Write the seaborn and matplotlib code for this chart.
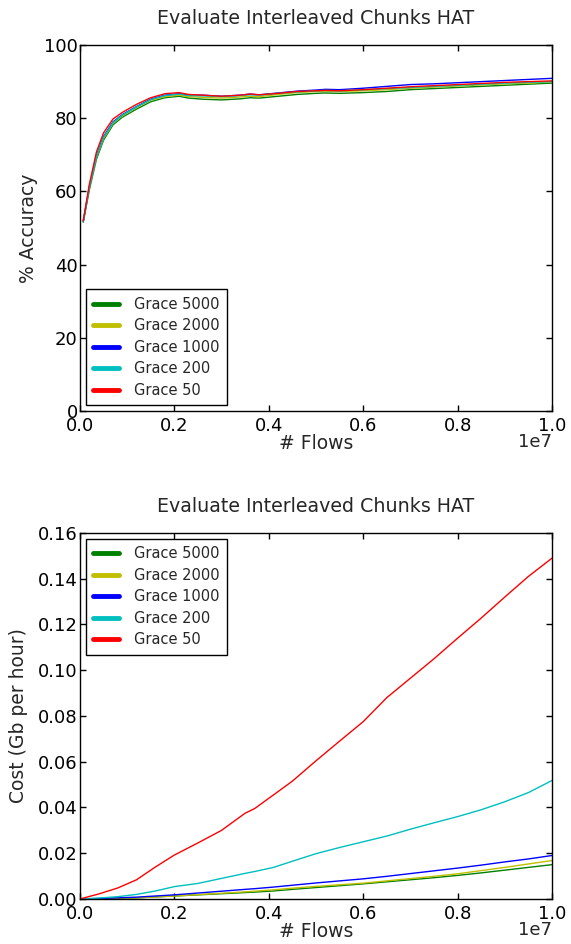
import matplotlib
matplotlib.use("Agg")
import matplotlib.pyplot as plt
import numpy as np
import pandas as pd
import seaborn as sns

# ---- data -------------------------------------------------------------
series_names = ["Grace 5000", "Grace 2000", "Grace 1000", "Grace 200", "Grace 50"]
series_colors = ["#008000", "#bfbf00", "#0000ff", "#00bfbf", "#ff0000"]

# accuracy vs. number of flows (x in units of 1e7 flows)
acc_x = [0.007, 0.02, 0.035, 0.05, 0.07, 0.09, 0.12, 0.15, 0.18, 0.21, 0.23,
         0.26, 0.30, 0.34, 0.36, 0.38, 0.42, 0.46, 0.50, 0.52, 0.55, 0.60,
         0.65, 0.70, 0.75, 0.80, 0.85, 0.90, 0.95, 1.00]
acc_grace_5000 = [51.6, 60.5, 68.8, 74.0, 78.2, 80.3, 82.5, 84.5, 85.6, 86.0, 85.5,
                  85.2, 85.0, 85.3, 85.6, 85.5, 86.0, 86.5, 86.8, 86.9, 86.8, 87.0,
                  87.3, 87.8, 88.1, 88.4, 88.7, 89.0, 89.3, 89.6]
acc_grace_2000 = [51.8, 61.0, 69.3, 74.5, 78.6, 80.7, 82.9, 84.9, 85.9, 86.3, 85.9,
                  85.7, 85.5, 85.8, 86.0, 85.9, 86.5, 87.0, 87.3, 87.4, 87.3, 87.5,
                  87.8, 88.2, 88.5, 88.8, 89.1, 89.4, 89.6, 89.9]
acc_grace_1000 = [51.8, 61.3, 69.8, 75.0, 79.0, 81.0, 83.2, 85.2, 86.3, 86.7, 86.3,
                  86.3, 86.0, 86.3, 86.6, 86.4, 86.9, 87.4, 87.7, 87.9, 87.8, 88.2,
                  88.7, 89.2, 89.4, 89.7, 90.0, 90.3, 90.6, 90.9]
acc_grace_200 = [51.8, 61.2, 69.6, 74.8, 78.8, 80.9, 83.1, 85.1, 86.2, 86.6, 86.2,
                 86.1, 85.9, 86.2, 86.4, 86.3, 86.8, 87.2, 87.5, 87.6, 87.5, 87.8,
                 88.1, 88.4, 88.7, 89.0, 89.3, 89.6, 89.8, 90.0]
acc_grace_50 = [52.0, 62.0, 70.8, 76.0, 79.8, 81.6, 83.8, 85.6, 86.7, 87.0, 86.5,
                86.3, 86.0, 86.3, 86.6, 86.4, 86.8, 87.3, 87.5, 87.6, 87.5, 87.8,
                88.2, 88.6, 88.9, 89.2, 89.5, 89.8, 90.0, 90.2]

# cost (Gb per hour) vs. number of flows (x in units of 1e7 flows)
cost_x = [0.00, 0.04, 0.08, 0.12, 0.16, 0.20, 0.25, 0.30, 0.35, 0.37, 0.41, 0.45,
          0.50, 0.55, 0.60, 0.65, 0.70, 0.75, 0.80, 0.85, 0.90, 0.95, 1.00]
cost_grace_5000 = [0, 0.0001, 0.0003, 0.0005, 0.0009, 0.0013, 0.0018, 0.0023, 0.0028,
                   0.0030, 0.0035, 0.0042, 0.0050, 0.0058, 0.0066, 0.0075, 0.0084,
                   0.0093, 0.0103, 0.0114, 0.0126, 0.0138, 0.0150]
cost_grace_2000 = [0, 0.0001, 0.0003, 0.0005, 0.0009, 0.0013, 0.0019, 0.0025, 0.0031,
                   0.0034, 0.0040, 0.0047, 0.0055, 0.0062, 0.0069, 0.0079, 0.0089,
                   0.0099, 0.0110, 0.0124, 0.0138, 0.0153, 0.0168]
cost_grace_1000 = [0, 0.0002, 0.0005, 0.0008, 0.0013, 0.0018, 0.0026, 0.0034, 0.0042,
                   0.0045, 0.0052, 0.0060, 0.0070, 0.0079, 0.0088, 0.0099, 0.0111,
                   0.0123, 0.0135, 0.0148, 0.0162, 0.0175, 0.0190]
cost_grace_200 = [0, 0.0004, 0.0010, 0.0020, 0.0035, 0.0054, 0.0068, 0.0090, 0.0112,
                  0.0120, 0.0138, 0.0165, 0.0198, 0.0225, 0.0250, 0.0275, 0.0305,
                  0.0333, 0.0360, 0.0390, 0.0425, 0.0465, 0.0518]
cost_grace_50 = [0, 0.0022, 0.0048, 0.0084, 0.0140, 0.0192, 0.0245, 0.0300, 0.0375,
                 0.0395, 0.0455, 0.0515, 0.0604, 0.0690, 0.0775, 0.0880, 0.0965,
                 0.1050, 0.1140, 0.1228, 0.1320, 0.1410, 0.1490]

x_ticks = [0.0, 0.2, 0.4, 0.6, 0.8, 1.0]
acc_ticks = [0, 20, 40, 60, 80, 100]
cost_ticks = [0.00, 0.02, 0.04, 0.06, 0.08, 0.10, 0.12, 0.14, 0.16]


def long_frame(x, columns):
    rows = []
    for name, vals in zip(series_names, columns):
        for xi, yi in zip(x, vals):
            rows.append({"flows": xi * 1e7, "value": yi, "series": name})
    return pd.DataFrame(rows)


acc_df = long_frame(acc_x, [acc_grace_5000, acc_grace_2000, acc_grace_1000,
                            acc_grace_200, acc_grace_50])
cost_df = long_frame(cost_x, [cost_grace_5000, cost_grace_2000, cost_grace_1000,
                              cost_grace_200, cost_grace_50])

# ---- style ------------------------------------------------------------
sns.set_style("white")
plt.rcParams.update({
    "font.family": ["DejaVu Sans"],
    "axes.edgecolor": "black",
    "axes.linewidth": 1.0,
    "xtick.direction": "in",
    "ytick.direction": "in",
    "xtick.top": True,
    "ytick.right": True,
    "xtick.bottom": True,
    "ytick.left": True,
    "xtick.major.size": 4,
    "ytick.major.size": 4,
    "xtick.major.width": 1.0,
    "ytick.major.width": 1.0,
    "xtick.color": "black",
    "ytick.color": "black",
    "xtick.labelsize": 13,
    "ytick.labelsize": 13,
    "xtick.major.pad": 4.5,
    "ytick.major.pad": 1.5,
})

palette = dict(zip(series_names, series_colors))

fig = plt.figure(figsize=(5.71, 9.44), dpi=100)
ax1 = fig.add_axes([0.140, 0.5646, 0.8267, 0.3877])
ax2 = fig.add_axes([0.140, 0.0477, 0.8267, 0.3877])

panels = [
    (ax1, acc_df, "% Accuracy", (0, 100), acc_ticks, "lower left", 4),
    (ax2, cost_df, "Cost (Gb per hour)", (0, 0.16), cost_ticks, "upper left", 7),
]

for ax, df, ylabel, ylim, yticks, loc, ylabelpad in panels:
    sns.lineplot(data=df, x="flows", y="value", hue="series",
                 hue_order=series_names, palette=palette, linewidth=1.0,
                 ax=ax, sort=False, estimator=None)
    ax.set_xlim(0, 1e7)
    ax.set_ylim(*ylim)
    ax.set_xticks([t * 1e7 for t in x_ticks])
    ax.set_yticks(yticks)
    if ylim[1] < 1:
        ax.set_yticklabels([f"{t:.2f}" for t in yticks])
    ax.ticklabel_format(axis="x", style="sci", scilimits=(0, 0))
    ax.set_title("Evaluate Interleaved Chunks HAT", fontsize=13.7, pad=15)
    ax.set_xlabel("# Flows", fontsize=13.5, labelpad=-1)
    ax.set_ylabel(ylabel, fontsize=13.5, labelpad=ylabelpad)
    for s in ax.spines.values():
        s.set_visible(True)
        s.set_color("black")

    handles, labels = ax.get_legend_handles_labels()
    leg = ax.legend(handles, labels, loc=loc, fontsize=10.5, frameon=True,
                    fancybox=False, edgecolor="black", framealpha=1.0,
                    handlelength=1.8, handletextpad=1.0, borderpad=0.5,
                    labelspacing=0.45, borderaxespad=0.4)
    leg.get_frame().set_linewidth(1.0)
    for line in leg.get_lines():
        line.set_linewidth(3.5)

# place the x-axis scale factor just under the last tick label
fig.canvas.draw()
for ax in (ax1, ax2):
    offset = ax.xaxis.get_major_formatter().get_offset()
    ax.xaxis.get_offset_text().set_visible(False)
    ax.text(1.0, -0.086, offset, transform=ax.transAxes, ha="right",
            va="center", fontsize=13)

fig.savefig("out.png", dpi=100)
